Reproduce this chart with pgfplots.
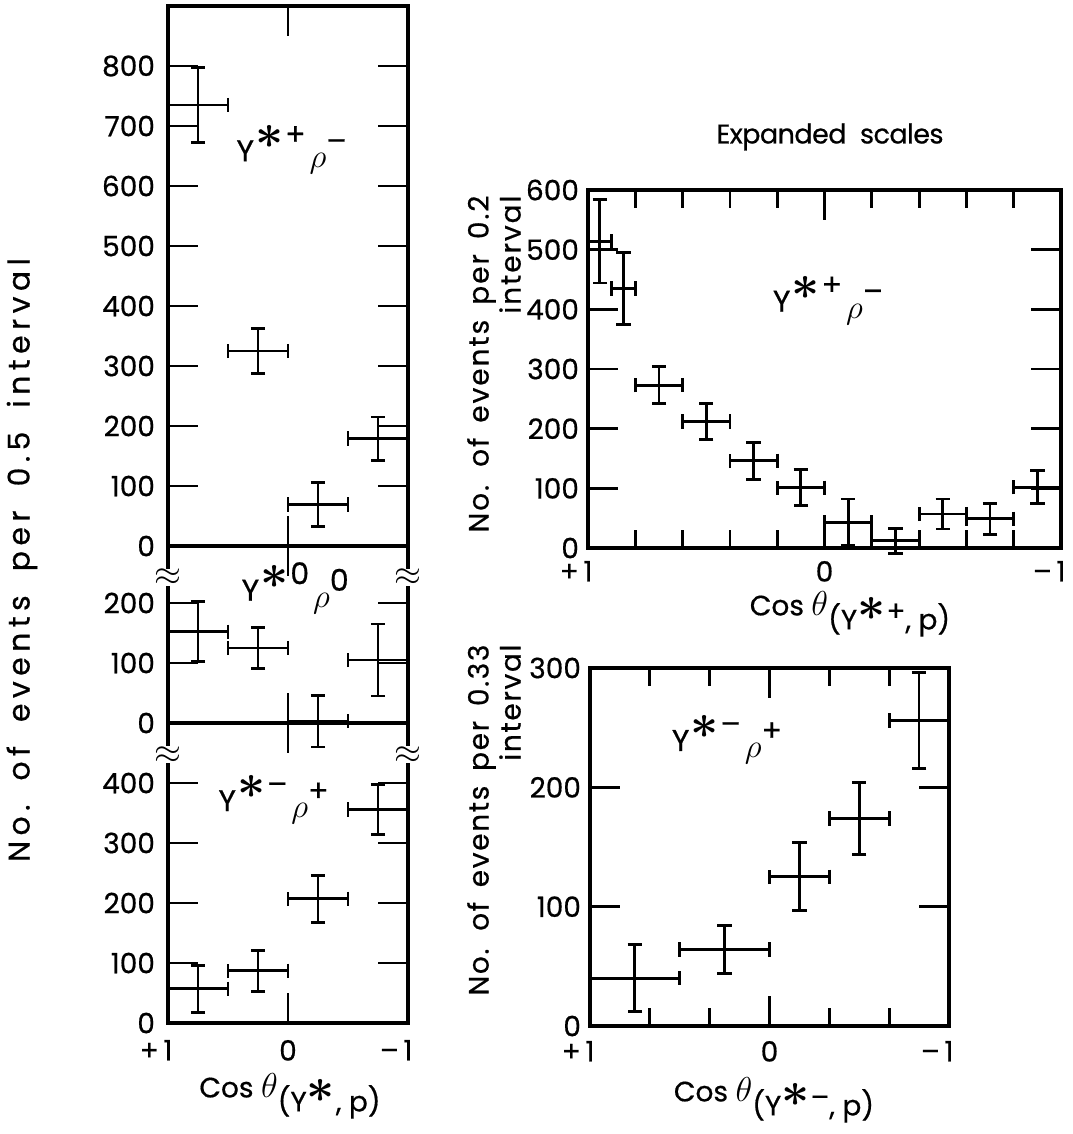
\documentclass[border=0pt]{standalone}
\usepackage{pgfplots}
\pgfplotsset{compat=1.18}
\usepackage{fontspec}
\usepackage{graphicx}
\setmainfont{Poppins}[FakeBold=0.6]

% Y* labels: Y, bold asterisk with charge, then rho with charge
\newcommand{\bast}{\scalebox{1.7}{\boldmath$\ast$}}
\newcommand{\Ystar}[2]{Y\hspace{0.5pt}\raisebox{0.42em}{\bast}\hspace{1pt}\raisebox{0.55em}{#1}\hspace{2pt}\raisebox{-0.22em}{\scalebox{1.15}{$\rho$}\raisebox{0.55em}{#2}}}
\newcommand{\costh}[1]{Cos \scalebox{1.2}{$\theta$}\raisebox{-0.5em}{(Y\raisebox{0.3em}{\bast\hspace{0.5pt}#1}, p)}}
\newcommand{\lbl}{\fontsize{14}{16}\selectfont}

\pgfplotsset{
  panel/.style={
    scale only axis, x dir=reverse, xmin=-1, xmax=1, ymin=0,
    axis line style={line width=1.6pt},
    every tick/.style={black, line width=1.4pt},
    tick align=inside,
    major tick length=15pt,
    clip=false,
    tick label style={font=\fontsize{14}{16}\selectfont},
    /pgf/number format/assume math mode=true,
    yticklabel style={xshift=-3pt},
    xtick={-1,0,1},
    xticklabels={\llap{--\,}1, 0, \llap{+\,}1},
  },
  % same frame again, carrying only the short ticks along the bottom and top
  tickframe/.style={
    panel, hide y axis, xtick={#1}, xticklabels={}, major tick length=9pt,
  },
  errpts/.style={
    only marks, mark=*, mark size=0pt, mark options={draw=none, fill=none}, black,
    error bars/.cd,
      x dir=both, x explicit, y dir=both, y explicit,
      error bar style={line width=1.4pt, black},
      error mark options={rotate=90, line width=1.4pt, mark size=3.6pt, black},
  },
}

\begin{document}
\begin{tikzpicture}
\path[use as bounding box] (0,0) rectangle (536pt,-567pt);

% ---------- left column: upper panel ----------
\begin{axis}[panel, at={(84pt,-273pt)}, anchor=south west, width=120pt, height=270pt,
  ymax=900, ytick={0,100,...,800}, xticklabels={}]
\addplot[errpts] coordinates {
  (0.75,735) +- (0.25,63)
  (0.25,325) +- (0.25,38)
  (-0.25,69) +- (0.25,37)
  (-0.75,179) +- (0.25,36)
};
\node[font=\fontsize{15}{17}\selectfont] at (axis cs:-0.03,660) {\Ystar{+}{--}};
\end{axis}

% ---------- left column: middle panel ----------
\begin{axis}[panel, at={(84pt,-361.5pt)}, anchor=south west, width=120pt, height=88.5pt,
  ymax=295, ytick={0,100,200}, xticklabels={}]
\addplot[errpts] coordinates {
  (0.75,152) +- (0.25,50)
  (0.25,125) +- (0.25,34)
  (-0.25,3) +- (0.25,43)
  (-0.75,105) +- (0.25,60)
};
\node[font=\fontsize{15}{17}\selectfont] at (axis cs:-0.06,225) {\Ystar{0}{0}};
\node[fill=white, inner sep=0pt, font=\fontsize{18}{18}\selectfont] at (axis cs:1,243) {$\approx$};
\node[fill=white, inner sep=0pt, font=\fontsize{18}{18}\selectfont] at (axis cs:-1,243) {$\approx$};
\end{axis}

% ---------- left column: lower panel ----------
\begin{axis}[panel, at={(84pt,-511.5pt)}, anchor=south west, width=120pt, height=150pt,
  ymax=500, ytick={0,100,...,400},
  xticklabel style={yshift=-5pt}]
\addplot[errpts] coordinates {
  (0.75,57) +- (0.25,39)
  (0.25,87) +- (0.25,34)
  (-0.25,207) +- (0.25,39)
  (-0.75,356) +- (0.25,42)
};
\node[font=\fontsize{15}{17}\selectfont] at (axis cs:0.12,372) {\Ystar{--}{+}};
\node[fill=white, inner sep=0pt, font=\fontsize{18}{18}\selectfont] at (axis cs:1,447) {$\approx$};
\node[fill=white, inner sep=0pt, font=\fontsize{18}{18}\selectfont] at (axis cs:-1,447) {$\approx$};
\end{axis}

% ---------- right column: expanded scale, Y*+ ----------
\begin{axis}[panel, at={(294pt,-274pt)}, anchor=south west, width=236.5pt, height=179pt,
  ymax=600, ytick={0,100,...,600},
  xticklabel style={yshift=-3pt},
  yticklabel style={xshift=2pt}]
\addplot[errpts] coordinates {
  (0.95,514) +- (0.05,70)
  (0.85,435) +- (0.05,60)
  (0.7,273) +- (0.1,31)
  (0.5,212) +- (0.1,30)
  (0.3,146) +- (0.1,31)
  (0.1,101) +- (0.1,30)
  (-0.1,43) +- (0.1,39)
  (-0.3,12) +- (0.1,21)
  (-0.5,57) +- (0.1,25)
  (-0.7,49) +- (0.1,26)
  (-0.9,102) +- (0.1,28)
};
\node[font=\fontsize{15}{17}\selectfont] at (axis cs:-0.015,415) {\Ystar{+}{--}};
\end{axis}
\begin{axis}[tickframe={-0.8,-0.6,-0.4,-0.2,0.2,0.4,0.6,0.8},
  at={(294pt,-274pt)}, anchor=south west, width=236.5pt, height=179pt, ymax=600]
\end{axis}

% ---------- right column: expanded scale, Y*- ----------
\begin{axis}[panel, at={(295pt,-513pt)}, anchor=south west, width=179.5pt, height=179pt,
  ymax=300, ytick={0,100,200,300},
  xticklabel style={yshift=-4pt},
  yticklabel style={xshift=2pt}]
\addplot[errpts] coordinates {
  (0.75,40) +- (0.25,28)
  (0.25,64) +- (0.25,20)
  (-0.1667,125) +- (0.1667,28.5)
  (-0.5,174) +- (0.1667,30)
  (-0.8333,256) +- (0.1667,40)
};
\node[font=\fontsize{15}{17}\selectfont] at (axis cs:0.237,240) {\Ystar{--}{+}};
\end{axis}
\begin{axis}[tickframe={-0.6667,-0.3333,0.3333,0.6667},
  at={(295pt,-513pt)}, anchor=south west, width=179.5pt, height=179pt, ymax=300]
\end{axis}

% ---------- titles and axis labels ----------
\node[rotate=90, font=\fontsize{15}{17}\selectfont\addfontfeatures{LetterSpace=18}] at (11pt,-280pt) {No.\hspace{0.8em}of\hspace{0.8em}events\hspace{0.8em}per\hspace{0.8em}0.5\hspace{0.8em}interval};
\node[font=\lbl] at (145pt,-548pt) {\costh{}};
\node[font=\fontsize{13.5}{15}\selectfont\addfontfeatures{LetterSpace=-2}] at (415pt,-68.5pt) {Expanded\hspace{0.5em}scales};
\node[rotate=90, align=right, font=\lbl\addfontfeatures{LetterSpace=7}] at (247pt,-182pt) {No.\hspace{0.2em} of\hspace{0.2em} events\hspace{0.2em} per\hspace{0.2em} 0.2\\interval};
\node[font=\lbl] at (425pt,-307pt) {\costh{+}};
\node[rotate=90, align=right, font=\lbl\addfontfeatures{LetterSpace=6}] at (247pt,-410pt) {No.\hspace{0.2em} of\hspace{0.2em} events\hspace{0.2em} per\hspace{0.2em} 0.33\\interval};
\node[font=\lbl] at (387pt,-550pt) {\costh{--}};
\end{tikzpicture}
\end{document}
